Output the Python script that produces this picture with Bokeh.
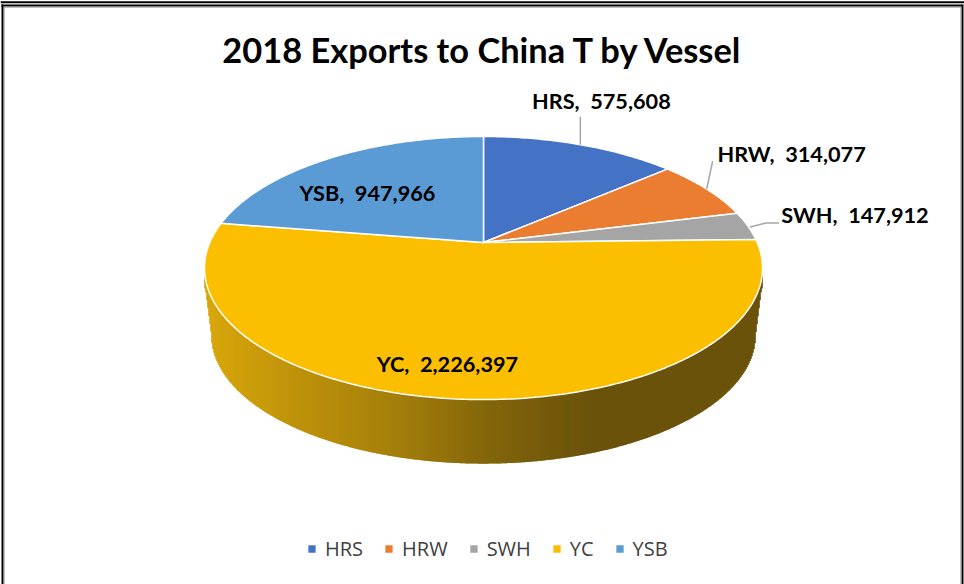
import numpy as np
from bokeh.plotting import figure
from bokeh.models import Range1d, Legend, LegendItem
from bokeh.core.properties import value
from bokeh.embed import file_html
from bokeh.resources import INLINE

title_text = "2018 Exports to China T by Vessel"
categories = ["HRS", "HRW", "SWH", "YC", "YSB"]
values = [575608, 314077, 147912, 2226397, 947966]
colors = ["#4472C4", "#EB7D30", "#A5A5A5", "#FCBF00", "#5B9BD5"]

W, H = 964, 584
CX, CY = 483.0, 242.0
A, B, K = 273.7, 126.6, 0.194
DEPTH, SHRINK = 68.0, 0.975


def project(theta):
    X, Y = np.sin(theta), np.cos(theta)
    w = 1 + K * Y
    return CX + A * X / w, CY - B * Y / w


p = figure(width=W, height=H, x_range=Range1d(0, W), y_range=Range1d(H, 0),
           output_backend="svg", toolbar_location=None, min_border=0,
           margin=0, x_axis_type=None, y_axis_type=None,
           background_fill_color="white", border_fill_color="white",
           outline_line_color=None)
p.grid.visible = False

# window frame
p.line([0, W], [1.8, 1.8], line_color="black", line_width=2)
p.line([1, 962], [5, 5], line_color="black", line_width=2.2)
p.line([3, 961], [6.5, 6.5], line_color="#808080", line_width=1)
p.line([2, 2], [4, H], line_color="black", line_width=2)
p.line([3.5, 3.5], [6, H], line_color="#808080", line_width=1)
p.line([962, 962], [4, H], line_color="black", line_width=2)
p.line([960.5, 960.5], [6, H], line_color="#808080", line_width=1)

# side wall
t = np.linspace(np.pi / 2, 3 * np.pi / 2, 900)
tx, ty = project(t)
bx = CX + SHRINK * (tx - CX)
by = CY + DEPTH + SHRINK * (ty - CY)
il = int(np.argmin(bx))
ir = int(np.argmax(bx))
arc_x = np.concatenate([[tx.min() + 1], bx[il:ir:-1], [tx.max() - 1]])
arc_y = np.concatenate([[by[il] - 47], by[il:ir:-1], [by[ir] - 47]])
order = np.argsort(arc_x)
arc_x, arc_y = arc_x[order], arc_y[order]

edges = np.arange(np.floor(tx.min()) + 1, np.ceil(tx.max()) - 1)
stop_x = [205, 290, 400, 490, 590, 762]
stop_r = [217, 190, 160, 126, 101, 101]
stop_g = [164, 144, 121, 95, 76, 76]
mid = edges + 0.5
rr = np.interp(mid, stop_x, stop_r).astype(int)
gg = np.interp(mid, stop_x, stop_g).astype(int)
wall_colors = ["#%02x%02x00" % (r, g) for r, g in zip(rr, gg)]
p.quad(left=edges - 0.3, right=edges + 1.3, top=np.full_like(edges, 262.0),
       bottom=np.interp(mid, arc_x, arc_y), fill_color=wall_colors, line_color=None)

# top face
shares = np.array(values, dtype=float) / sum(values)
ends = np.cumsum(shares) * 2 * np.pi
starts = ends - shares * 2 * np.pi
mids = (starts + ends) / 2
items = []
for name, color, a0, a1 in zip(categories, colors, starts, ends):
    th = np.linspace(a0, a1, max(int((a1 - a0) * 80), 8))
    x, y = project(th)
    r = p.patch(np.r_[CX, x], np.r_[CY, y], fill_color=color,
                line_color="white", line_width=1.5)
    items.append(LegendItem(label=name, renderers=[r]))

# leader lines
lead_x, lead_y = project(mids[:3])
leader = "#A6A6A6"
p.line([lead_x[0], lead_x[0]], [lead_y[0], lead_y[0] - 28], line_color=leader, line_width=1.5)
p.line([lead_x[1], lead_x[1] + 6], [lead_y[1], lead_y[1] - 28], line_color=leader, line_width=1.5)
p.line([lead_x[2] + 2, lead_x[2] + 18, lead_x[2] + 31], [lead_y[2] + 1, lead_y[2] - 3, lead_y[2] - 3],
       line_color=leader, line_width=1.5)

# data labels
label_text = [f"{c},\u00a0\u00a0{v:,}" for c, v in zip(categories, values)]
label_x = [lead_x[0] + 21, lead_x[1] + 85, lead_x[2] + 107, CX - 36, CX - 116]
label_y = [lead_y[0] - 44, lead_y[1] - 35, lead_y[2] - 11, CY + 121, CY - 50]
p.text(label_x, label_y, text=label_text, text_align="center", text_baseline="middle",
       text_font=value("Lato"), text_font_style="bold", text_font_size="21.7px", text_color="black")

# title
p.text([CX], [49], text=[title_text], text_align="center", text_baseline="middle",
       text_font=value("Lato"), text_font_style="bold", text_font_size="34.4px", text_color="black")

legend = Legend(items=items, orientation="horizontal", location=(306, 22), margin=0, padding=0,
                spacing=20, label_standoff=8, glyph_width=11, glyph_height=11,
                label_text_font="Open Sans", label_text_font_size="20px", label_text_color="#404040",
                background_fill_alpha=0, border_line_color=None)
p.add_layout(legend, "center")

open("out.html", "w").write(file_html(p, INLINE))
